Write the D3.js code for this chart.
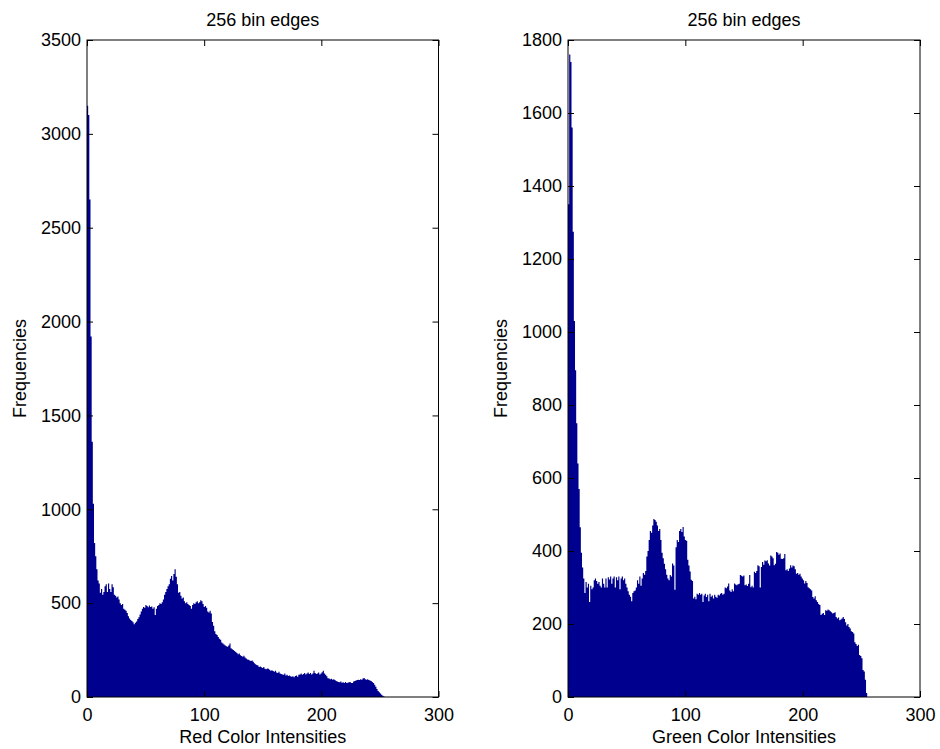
<!DOCTYPE html>
<html>
<head>
<meta charset="utf-8">
<script src="https://cdn.jsdelivr.net/npm/d3@7"></script>
<style>
  body { margin: 0; background: #fff; }
  svg { display: block; font-family: "Liberation Sans", Arial, Helvetica, sans-serif; }
</style>
</head>
<body>
<div id="chart"></div>
<script>
// Two 256-bin histograms (red / green channel)
const xTicks = [0, 100, 200, 300];
const redTicks = [0, 500, 1000, 1500, 2000, 2500, 3000, 3500];
const greenTicks = [0, 200, 400, 600, 800, 1000, 1200, 1400, 1600, 1800];
const titleText = "256 bin edges";
const yLabelText = "Frequencies";
const redLabel = "Red Color Intensities";
const greenLabel = "Green Color Intensities";

// counts per intensity bin 0..255
const redCounts = [
  3150, 3100, 2650, 1920, 1360, 1030, 820, 750, 680, 620, 605, 555, 575, 545, 560, 590,
  600, 560, 605, 575, 560, 600, 585, 545, 540, 530, 535, 520, 500, 490, 495, 470,
  465, 460, 448, 430, 418, 410, 405, 398, 388, 395, 402, 415, 425, 440, 455, 470,
  480, 475, 490, 485, 478, 488, 480, 482, 470, 478, 437, 470, 485, 490, 500, 495,
  505, 520, 545, 560, 575, 590, 600, 630, 645, 620, 655, 680, 640, 600, 555, 560,
  540, 525, 530, 510, 500, 505, 495, 490, 485, 470, 490, 500, 495, 505, 510, 500,
  505, 515, 510, 495, 480, 485, 475, 455, 450, 460, 445, 400, 380, 350, 335, 330,
  320, 310, 305, 290, 285, 280, 275, 270, 268, 275, 285, 260, 255, 250, 245, 240,
  235, 228, 232, 222, 218, 215, 220, 210, 205, 200, 198, 195, 192, 195, 188, 180,
  175, 170, 168, 160, 163, 158, 155, 160, 150, 148, 152, 150, 145, 140, 143, 138,
  135, 140, 130, 128, 135, 125, 122, 120, 118, 125, 115, 118, 112, 115, 110, 108,
  110, 105, 112, 115, 108, 118, 120, 125, 118, 122, 128, 120, 125, 130, 122, 128,
  120, 125, 140, 128, 122, 125, 130, 120, 125, 132, 140, 125, 118, 110, 100, 98,
  95, 97, 92, 95, 90, 85, 82, 80, 78, 82, 76, 78, 75, 80, 74, 76,
  78, 80, 75, 74, 82, 85, 88, 90, 92, 90, 95, 92, 98, 101, 95, 92,
  95, 90, 88, 85, 80, 74, 65, 55, 42, 32, 25, 18, 12, 7, 3, 0
];
const greenCounts = [
  1350, 1760, 1740, 1560, 1275, 1030, 895, 750, 640, 570, 465, 395, 355, 325, 285, 315,
  300, 310, 260, 305, 295, 300, 320, 325, 318, 310, 315, 305, 300, 325, 310, 300,
  325, 300, 328, 322, 330, 310, 325, 330, 300, 328, 320, 330, 295, 325, 330, 320,
  325, 310, 300, 290, 280, 275, 262, 285, 290, 292, 300, 320, 310, 330, 305, 325,
  340, 335, 345, 385, 400, 430, 455, 450, 470, 488, 485, 480, 470, 455, 460, 430,
  395, 380, 365, 350, 335, 325, 320, 334, 330, 366, 360, 294, 410, 430, 425, 455,
  460, 452, 466, 440, 430, 428, 376, 360, 344, 321, 318, 270, 275, 268, 283, 280,
  285, 280, 283, 260, 278, 283, 274, 280, 262, 283, 275, 278, 270, 280, 275, 272,
  280, 278, 283, 285, 280, 283, 300, 298, 303, 311, 292, 288, 295, 290, 311, 308,
  306, 309, 310, 334, 332, 330, 333, 306, 308, 304, 310, 334, 301, 305, 300, 343,
  340, 345, 361, 358, 300, 356, 370, 362, 374, 372, 375, 366, 360, 388, 385, 380,
  361, 365, 397, 395, 390, 393, 379, 378, 380, 392, 347, 350, 345, 352, 361, 355,
  360, 358, 350, 338, 340, 335, 338, 330, 325, 320, 311, 318, 312, 301, 298, 295,
  292, 274, 270, 276, 265, 260, 255, 252, 225, 228, 230, 225, 238, 236, 240, 238,
  235, 232, 229, 230, 232, 219, 215, 218, 210, 212, 215, 219, 214, 205, 196, 200,
  192, 188, 180, 178, 174, 150, 145, 140, 143, 115, 112, 106, 74, 70, 47, 11
];

(() => {
  const W = 940, H = 749;
  const top = 40, bottom = 697;
  const barColor = "#00008f";
  const fontSize = 18;
  const tick = 6;
  const fmt = d3.format("d");

  const svg = d3.select("#chart").append("svg").attr("width", W).attr("height", H);

  const panels = [
    { counts: redCounts, yTicks: redTicks, left: 87, right: 438.5, xLabel: redLabel, yLabelX: 26 },
    { counts: greenCounts, yTicks: greenTicks, left: 568, right: 920, xLabel: greenLabel, yLabelX: 507 }
  ];

  const nBins = 256;
  const binW = 255 / nBins;

  panels.forEach(p => {
    const x = d3.scaleLinear().domain([0, 300]).range([p.left, p.right]);
    const y = d3.scaleLinear().domain([0, d3.max(p.yTicks)]).range([bottom, top]);
    const g = svg.append("g");

    // bars drawn as one stepped area so adjacent bins don't leave seams
    const pts = p.counts.map((d, i) => [i * binW, d]);
    pts.push([nBins * binW, p.counts[nBins - 1]]);
    const area = d3.area()
      .curve(d3.curveStepAfter)
      .x(d => x(d[0]))
      .y0(bottom)
      .y1(d => y(d[1]));
    g.append("path").datum(pts).attr("d", area).attr("fill", barColor);

    const style = sel => {
      sel.attr("font-size", fontSize).attr("font-family", null);
      sel.select(".domain").remove();
      sel.selectAll(".tick line").attr("stroke", "#000");
      sel.selectAll("text").attr("fill", "#000");
    };

    // ticks on all four sides, pointing inward (MATLAB box)
    g.append("g").attr("transform", `translate(0,${bottom})`)
      .call(d3.axisBottom(x).tickValues(xTicks).tickFormat(fmt).tickSizeInner(-tick).tickSizeOuter(0).tickPadding(11))
      .call(style);
    g.append("g").attr("transform", `translate(0,${top})`)
      .call(d3.axisTop(x).tickValues(xTicks).tickSizeInner(-tick).tickSizeOuter(0).tickFormat(""))
      .call(style);
    g.append("g").attr("transform", `translate(${p.left},0)`)
      .call(d3.axisLeft(y).tickValues(p.yTicks).tickFormat(fmt).tickSizeInner(-tick).tickSizeOuter(0).tickPadding(6))
      .call(style);
    g.append("g").attr("transform", `translate(${p.right},0)`)
      .call(d3.axisRight(y).tickValues(p.yTicks).tickSizeInner(-tick).tickSizeOuter(0).tickFormat(""))
      .call(style);

    // box
    g.append("rect")
      .attr("x", p.left).attr("y", top)
      .attr("width", p.right - p.left).attr("height", bottom - top)
      .attr("fill", "none").attr("stroke", "#000").attr("stroke-width", 1);

    const cx = (p.left + p.right) / 2;
    g.append("text").attr("x", cx).attr("y", 26)
      .attr("text-anchor", "middle").attr("font-size", fontSize).text(titleText);
    g.append("text").attr("x", cx).attr("y", 743)
      .attr("text-anchor", "middle").attr("font-size", fontSize).text(p.xLabel);
    g.append("text")
      .attr("transform", `translate(${p.yLabelX},${(top + bottom) / 2}) rotate(-90)`)
      .attr("text-anchor", "middle").attr("font-size", fontSize).text(yLabelText);
  });
})();
</script>
</body>
</html>
